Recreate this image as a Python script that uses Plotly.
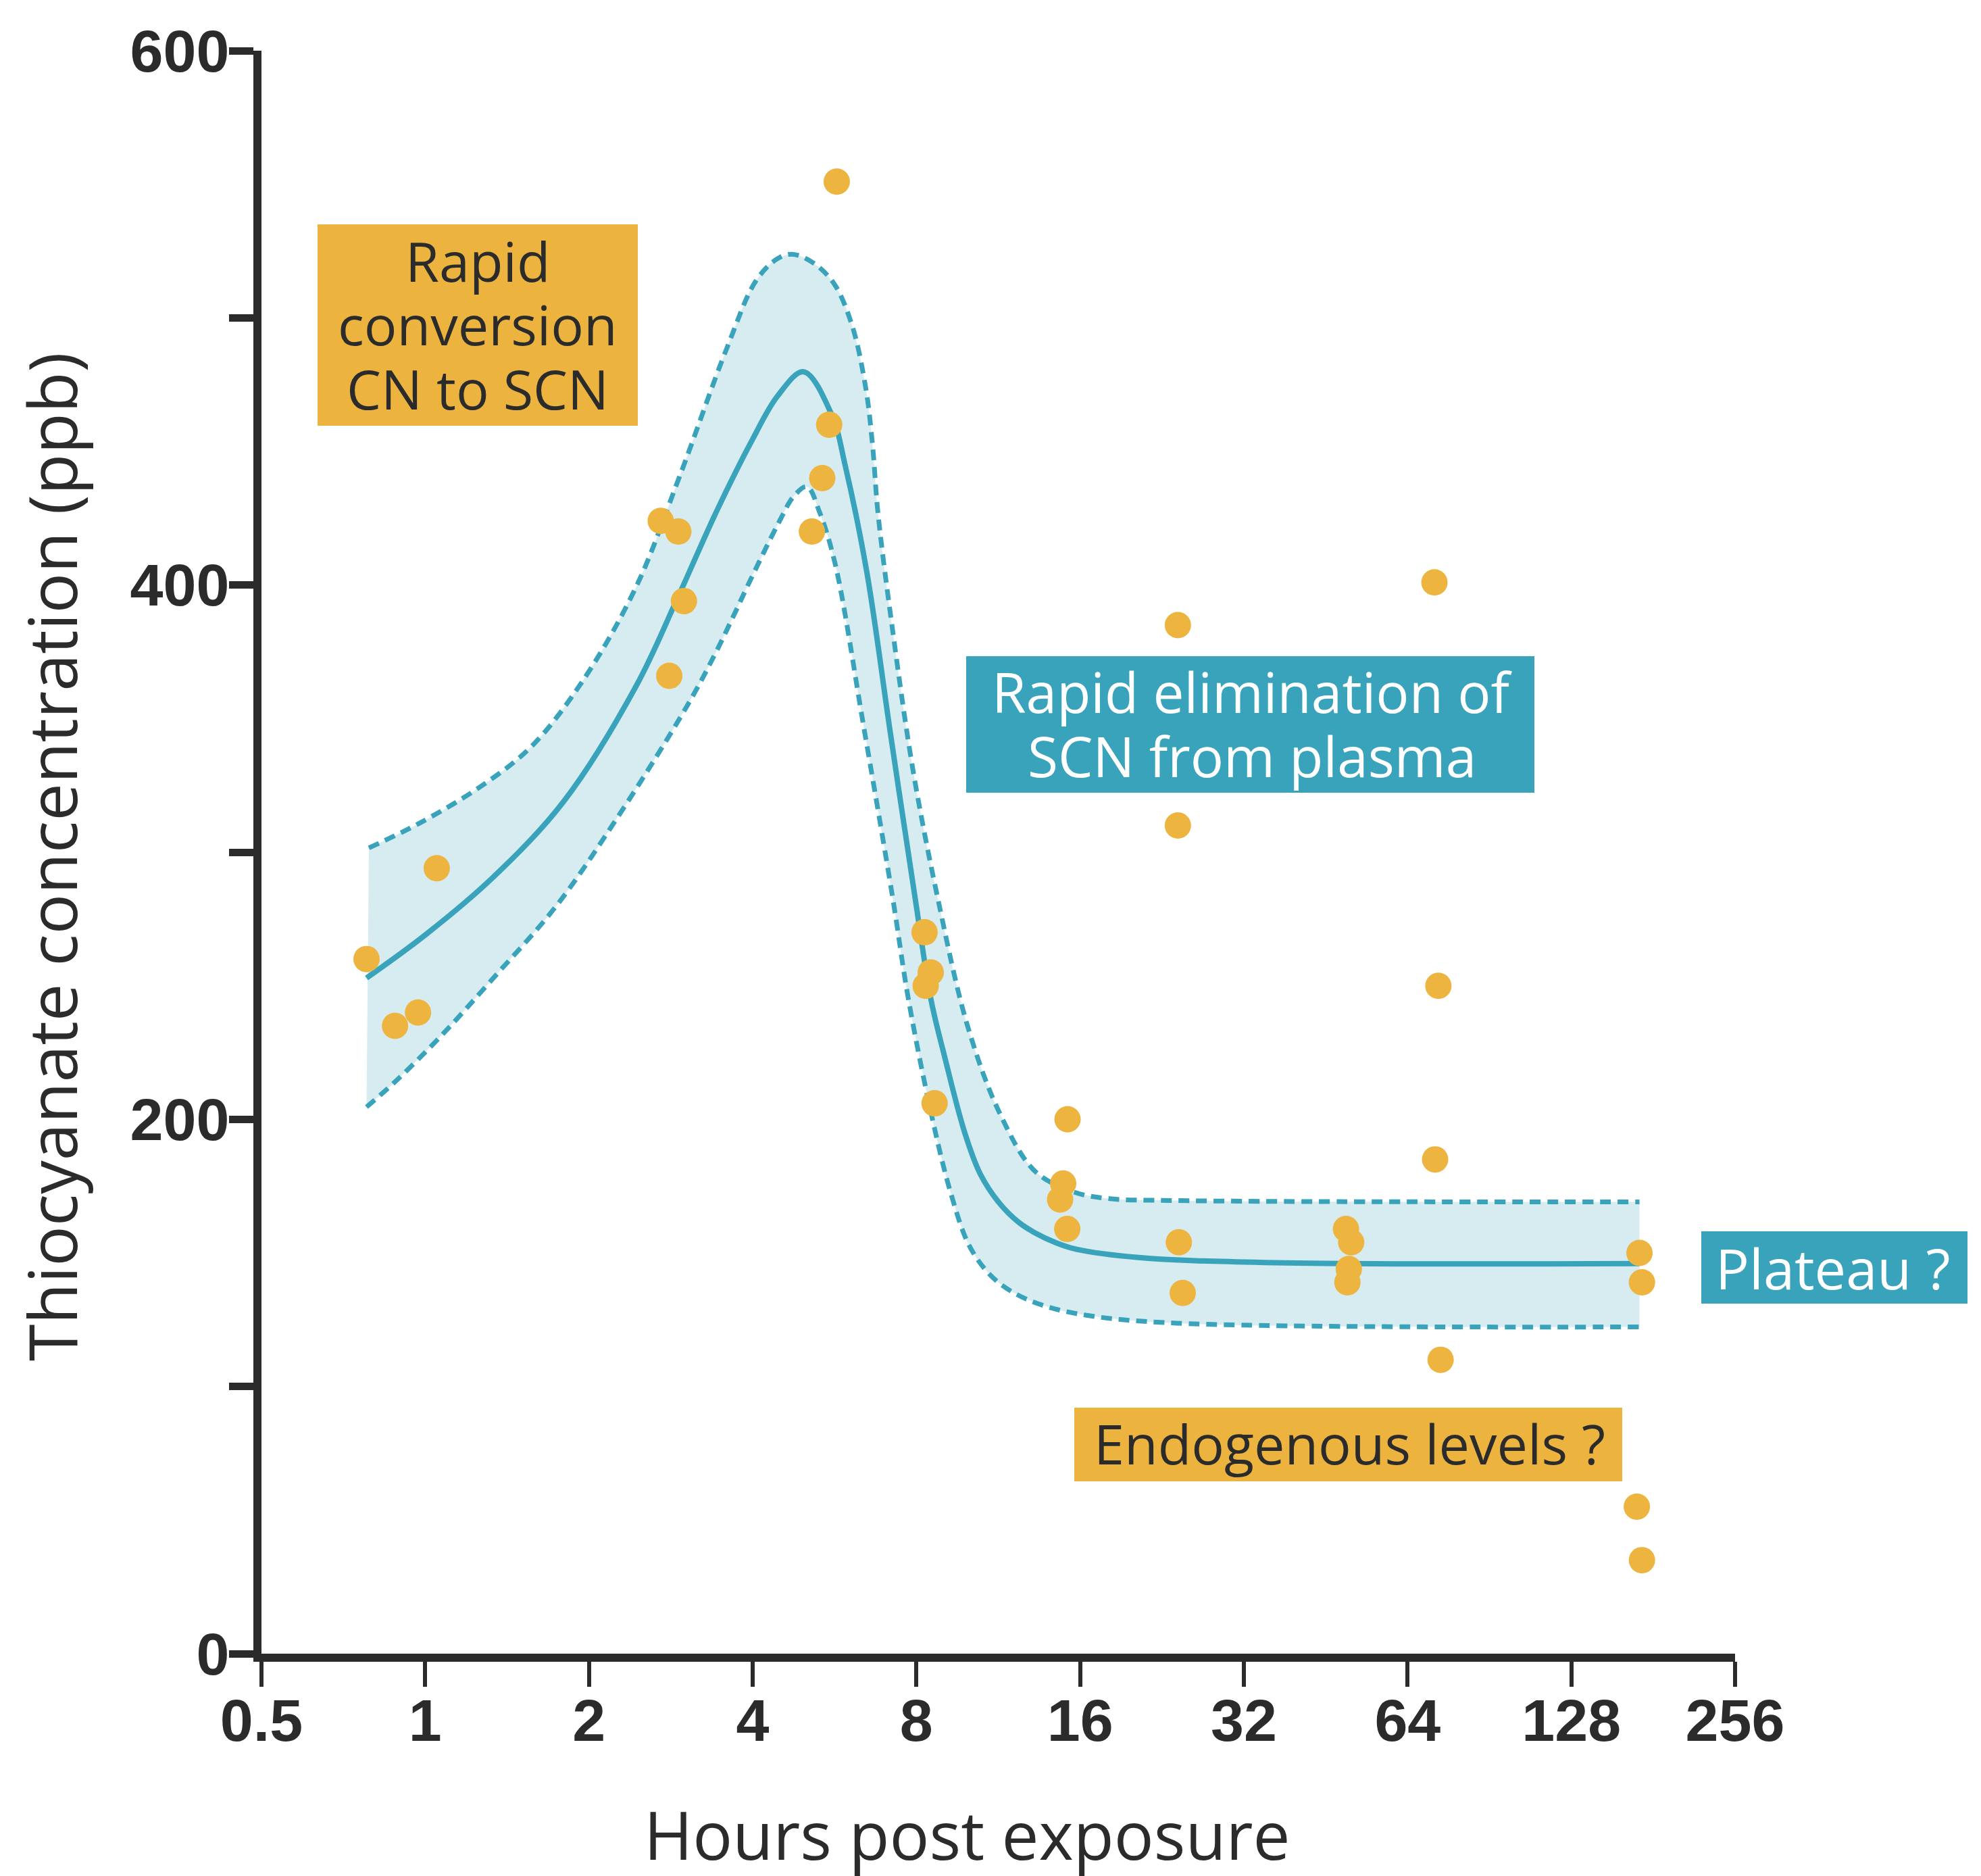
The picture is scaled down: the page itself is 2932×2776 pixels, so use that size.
import math
import plotly.graph_objects as go

# ---------------- data ----------------
hours = [0.78, 0.88, 0.97, 1.05, 2.71, 2.81, 2.92, 2.99, 5.14, 5.37, 5.53, 5.71,
         8.28, 8.32, 8.50, 8.64, 14.7, 14.89, 15.17, 15.15, 24.2, 24.2, 24.3, 24.7,
         49.3, 49.6, 49.9, 50.4, 71.7, 71.9, 72.9, 73.6, 168.9, 170.8, 172.6, 172.6]
ppb = [260, 235, 240, 294, 424, 366, 420, 394, 420, 440, 460, 551,
       270, 250, 255, 206, 170, 176, 200, 159, 385, 310, 154, 135,
       159, 139, 144, 154, 401, 185, 250, 110, 55, 150, 139, 35]

fit_hours = [0.780, 1.003, 1.333, 1.799, 2.441, 2.898, 3.439, 3.995, 4.447, 4.964,
             5.594, 5.92, 6.486, 7.165, 7.96, 8.514, 9.014, 9.82, 10.48, 11.36,
             12.31, 13.19, 14.45, 15.66, 20.47, 34.97, 170.8]
fit_ppb = [252.9, 269.2, 290.6, 319.1, 362.1, 394.3, 427.9, 454.4, 470.8, 479.8,
           463.5, 444.6, 404.8, 344.6, 282.6, 244.6, 223.5, 194.9, 179.6, 168.7,
           161.6, 157.6, 153.8, 151.5, 148.3, 146.4, 146.0]

upper_hours = [0.788, 0.971, 1.263, 1.565, 1.939, 2.437, 2.935, 3.59, 4.06, 4.447,
               4.733, 5.166, 5.645, 6.094, 6.453, 6.64, 6.80, 7.24, 7.89, 8.76,
               9.92, 11.36, 13.21, 15.53, 17.93, 24.04, 170.8]
upper_ppb = [301.6, 310.6, 324.5, 339.4, 363.5, 398.9, 440.6, 488.9, 514.0, 522.2,
             523.8, 520.6, 512.8, 497.1, 474.0, 453.0, 426.8, 382.5, 330.4, 282.6,
             235.4, 202.7, 180.6, 172.9, 170.4, 169.6, 169.1]

lower_hours = [0.780, 0.887, 1.076, 1.336, 1.742, 2.277, 3.037, 3.435, 3.995, 4.447,
               4.768, 5.036, 5.307, 5.672, 6.40, 7.24, 7.74, 8.60, 9.265, 9.985,
               10.88, 11.98, 13.70, 16.52, 24.04, 170.8]
lower_ppb = [204.6, 214.7, 231.8, 253.0, 279.9, 314.2, 355.1, 375.4, 403.4, 422.6,
             433.4, 436.8, 427.4, 407.9, 347.0, 282.6, 244.6, 198.3, 172.0, 153.1,
             142.2, 135.5, 130.3, 126.6, 123.7, 122.3]

xtick_vals = [0.5, 1, 2, 4, 8, 16, 32, 64, 128, 256]
xtick_text = ["0.5", "1", "2", "4", "8", "16", "32", "64", "128", "256"]
ytick_vals = [0, 100, 200, 300, 400, 500, 600]
ytick_text = ["0", "", "200", "", "400", "", "600"]

# ---------------- styles ----------------
TEAL = "#38a3bb"
ORANGE = "#edb43f"
BOX_ORANGE = "#ecb43f"
BAND = "#d6ecf1"
DARK = "#2b2b2b"

WIN_W, WIN_H = 2932, 2776
OFF = 8                      # default page body margin
W, H = WIN_W - OFF, WIN_H - OFF
L, RR, T, B = 387, 2568, 75, 2447  # plot-area bounds in window pixels


def px(X):
    return (X - L) / (RR - L)


def py(Y):
    return (B - Y) / (B - T)


SMOOTH = 1.0
fig = go.Figure()

# confidence band fill
fig.add_trace(go.Scatter(x=lower_hours, y=lower_ppb, mode="lines",
                         line=dict(width=0, shape="spline", smoothing=SMOOTH, color=BAND),
                         hoverinfo="skip", showlegend=False))
fig.add_trace(go.Scatter(x=upper_hours, y=upper_ppb, mode="lines",
                         line=dict(width=0, shape="spline", smoothing=SMOOTH, color=BAND),
                         fill="tonexty", fillcolor=BAND,
                         hoverinfo="skip", showlegend=False))
# dashed band edges
for hx, hy in ((upper_hours, upper_ppb), (lower_hours, lower_ppb)):
    fig.add_trace(go.Scatter(x=hx, y=hy, mode="lines",
                             line=dict(width=7, color=TEAL, dash="16px,10px",
                                       shape="spline", smoothing=SMOOTH),
                             hoverinfo="skip", showlegend=False))
# fitted curve
fig.add_trace(go.Scatter(x=fit_hours, y=fit_ppb, mode="lines",
                         line=dict(width=8, color=TEAL, shape="spline", smoothing=SMOOTH),
                         showlegend=False))
# data points
fig.add_trace(go.Scatter(x=hours, y=ppb, mode="markers",
                         marker=dict(size=39, color=ORANGE, line=dict(width=0)),
                         showlegend=False))

tickfont = dict(family="Liberation Sans, Arial, sans-serif", size=88, color=DARK, weight="bold")

fig.update_layout(
    width=W, height=H,
    margin=dict(l=L - OFF, r=W - (RR - OFF), t=T - OFF, b=H - (B - OFF), pad=0),
    paper_bgcolor="white", plot_bgcolor="white",
    xaxis=dict(type="log", range=[math.log10(0.5), math.log10(256)],
               tickvals=xtick_vals, ticktext=xtick_text,
               ticks="outside", ticklen=37, tickwidth=6, tickcolor=DARK,
               ticklabelstandoff=-26,
               showline=True, linewidth=12, linecolor=DARK,
               showgrid=False, zeroline=False, tickfont=tickfont),
    yaxis=dict(range=[0, 600], tickvals=ytick_vals, ticktext=ytick_text,
               ticks="outside", ticklen=36, tickwidth=11, tickcolor=DARK,
               ticklabelstandoff=-18,
               showline=True, linewidth=12, linecolor=DARK,
               showgrid=False, zeroline=False, tickfont=tickfont),
)

# annotation boxes (window-pixel bounds converted to paper coords)
boxes = [
    (470, 944, 332, 630, BOX_ORANGE),
    (1430, 2271, 971, 1173, TEAL),
    (2518, 2912, 1822, 1929, TEAL),
    (1590, 2401, 2083, 2192, BOX_ORANGE),
]
for x0, x1, y0, y1, col in boxes:
    fig.add_shape(type="rect", xref="paper", yref="paper",
                  x0=px(x0), x1=px(x1), y0=py(y1), y1=py(y0),
                  fillcolor=col, line=dict(width=0), layer="above")

labels = [
    ("Rapid", 707, 385, DARK, 81),
    ("conversion", 707, 479, DARK, 81),
    ("CN to SCN", 707, 574, DARK, 81),
    ("Rapid elimination of", 1853, 1023, "white", 82),
    ("SCN from plasma", 1853, 1118, "white", 82),
    ("Plateau ?", 2713, 1875, "white", 83),
    ("Endogenous levels ?", 1997, 2135, DARK, 81),
]
for txt, cx, cy, col, sz in labels:
    fig.add_annotation(text=txt, xref="paper", yref="paper", x=px(cx), y=py(cy),
                       xanchor="center", yanchor="middle", showarrow=False,
                       font=dict(family="Open Sans, Noto Sans, sans-serif", size=sz, color=col))

# axis titles
fig.add_annotation(text="Hours post exposure", xref="paper", yref="paper",
                   x=px(1431), y=py(2714), xanchor="center", yanchor="middle",
                   showarrow=False,
                   font=dict(family="Open Sans, Noto Sans, sans-serif", size=98, color=DARK))
fig.add_annotation(text="Thiocyanate concentration (ppb)", xref="paper", yref="paper",
                   x=px(75), y=py(1268), xanchor="center", yanchor="middle",
                   textangle=-90, showarrow=False,
                   font=dict(family="Open Sans, Noto Sans, sans-serif", size=99, color=DARK))

fig.write_html("out.html")
